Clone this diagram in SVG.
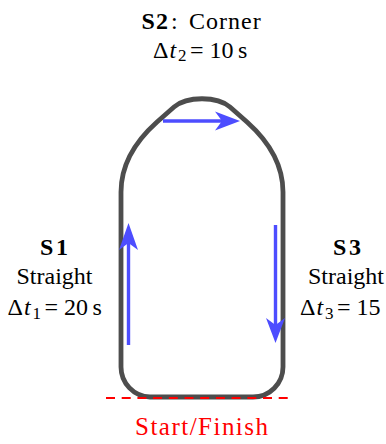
<svg xmlns="http://www.w3.org/2000/svg" width="386" height="444" viewBox="0 0 386 444">
<style>
text{font-family:"Liberation Serif","Times New Roman",serif;font-size:24px;fill:#000}
.it{font-style:italic}
.b{font-weight:bold}
.sub{font-size:17px}
.mid{text-anchor:middle}
.track{fill:none;stroke:#4d4d4d;stroke-width:4.8;stroke-linejoin:round}
.arr{stroke:#4d4dff;stroke-width:3.4;fill:none}
.head{fill:#4d4dff}
</style>
<rect width="386" height="444" fill="#fff"/>
<g id="track">
<path class="track" d="M150 397 H253 A30 30 0 0 0 283 367 V192 C283 162 266 139 247 122 L230 107 C217 96 187 96 174 107 L157 122 C138 139 121 162 121 192 V367 A30 30 0 0 0 150 397 Z"/>
</g>
<g id="startline">
<line x1="106" y1="398" x2="291" y2="398" stroke="#ff0000" stroke-width="2" stroke-dasharray="9 6.7"/>
<text x="135" y="435" font-size="25" textLength="133" style="fill:#ff0000;font-size:25px">Start/Finish</text>
</g>
<g id="connectors">
<g id="arrow-s1">
<line class="arr" x1="128.5" y1="345" x2="128.5" y2="240"/>
<path class="head" d="M128.5 223 L138 250 L128.5 243 L119 250 Z"/>
</g>
<g id="arrow-s2">
<line class="arr" x1="163" y1="121" x2="225" y2="121"/>
<path class="head" d="M240 121 L215 111.5 L222 121 L215 130.5 Z"/>
</g>
<g id="arrow-s3">
<line class="arr" x1="275.5" y1="225" x2="275.5" y2="328"/>
<path class="head" d="M275.5 343 L266 318 L275.5 325 L285 318 Z"/>
</g>
</g>
<g id="s1">
<text y="255"><tspan class="b" x="40">S</tspan><tspan class="b" x="56">1</tspan></text>
<text class="mid" x="54.5" y="284">Straight</text>
<text y="315"><tspan x="7.5">Δ</tspan><tspan class="it" x="24">t</tspan><tspan class="sub" x="32.5" dy="3.5">1</tspan><tspan x="44.5" dy="-3.5">=</tspan><tspan x="64">20</tspan><tspan x="92.5">s</tspan></text>
</g>
<g id="s2">
<text y="29"><tspan class="b" x="141.5">S</tspan><tspan class="b" x="156">2</tspan><tspan x="171">:</tspan><tspan x="189" letter-spacing="1">Corner</tspan></text>
<text y="57.5"><tspan x="153">Δ</tspan><tspan class="it" x="169.5">t</tspan><tspan class="sub" x="178" dy="3.5">2</tspan><tspan x="190" dy="-3.5">=</tspan><tspan x="209.5">10</tspan><tspan x="238">s</tspan></text>
</g>
<g id="s3">
<text y="255"><tspan class="b" x="333">S</tspan><tspan class="b" x="349">3</tspan></text>
<text class="mid" x="346" y="284">Straight</text>
<text y="315"><tspan x="300">Δ</tspan><tspan class="it" x="316.5">t</tspan><tspan class="sub" x="325" dy="3.5">3</tspan><tspan x="337" dy="-3.5">=</tspan><tspan x="356.5">15</tspan></text>
</g>
</svg>
